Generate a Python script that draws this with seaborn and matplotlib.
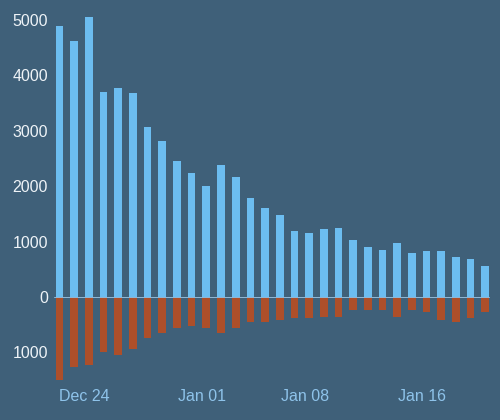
import pandas as pd
import numpy as np
import matplotlib
matplotlib.use('Agg')
import matplotlib.pyplot as plt
import seaborn as sns

# Daily values, Dec 22 .. Jan 20
days = pd.date_range('2023-12-22', periods=30, freq='D')
gains = [4900, 4620, 5060, 3700, 3770, 3680, 3070, 2810, 2450, 2240,
         2010, 2380, 2170, 1790, 1600, 1480, 1190, 1150, 1220, 1240,
         1030, 900, 840, 970, 800, 830, 830, 720, 680, 555]
losses = [1500, 1260, 1230, 990, 1050, 950, 740, 660, 570, 520,
          570, 650, 570, 450, 450, 420, 390, 390, 360, 360,
          240, 240, 240, 360, 240, 270, 420, 460, 390, 270]
tick_days = ['Dec 24', 'Jan 01', 'Jan 08', 'Jan 16']
y_ticks = [-1000, 0, 1000, 2000, 3000, 4000, 5000]

bg = '#3f6079'
blue = '#6cbdf0'
brown = '#ad4f2a'

df = pd.DataFrame({'day': days.strftime('%b %d'),
                   'gain': gains,
                   'loss': [-v for v in losses]})

sns.set_style('dark')
plt.rcParams['font.family'] = ['Liberation Sans', 'DejaVu Sans']

fig = plt.figure(figsize=(500 / 72, 420 / 72), dpi=72, facecolor=bg)
ax = fig.add_axes([0, 0, 1, 1])
ax.set_facecolor(bg)

sns.barplot(data=df, x='day', y='gain', color=blue, width=0.52,
            saturation=1, linewidth=0, ax=ax)
sns.barplot(data=df, x='day', y='loss', color=brown, width=0.52,
            saturation=1, linewidth=0, ax=ax)

ax.set_xlim(-4.05, 30.0)
ax.set_ylim(-2224, 5362)
ax.axhline(0, xmin=0.108, xmax=0.978, color='#8fb6d4', lw=1)

# x labels
pos = [list(df['day']).index(d) - 0.3 for d in tick_days]
ax.set_xticks(pos)
ax.set_xticklabels(tick_days)
ax.tick_params(axis='x', length=0, pad=-31, labelsize=16, labelcolor='#8ec3ea')

ax.set_yticks(y_ticks)
ax.set_yticklabels([str(abs(v)) for v in y_ticks])
ax.tick_params(axis='y', length=0, pad=-48, labelsize=16, labelcolor='#eef3f7')
for lab in ax.get_yticklabels():
    lab.set_horizontalalignment('right')

ax.set_xlabel('')
ax.set_ylabel('')
ax.grid(False)
for s in ax.spines.values():
    s.set_visible(False)

fig.savefig('out.png', dpi=72, facecolor=bg)
